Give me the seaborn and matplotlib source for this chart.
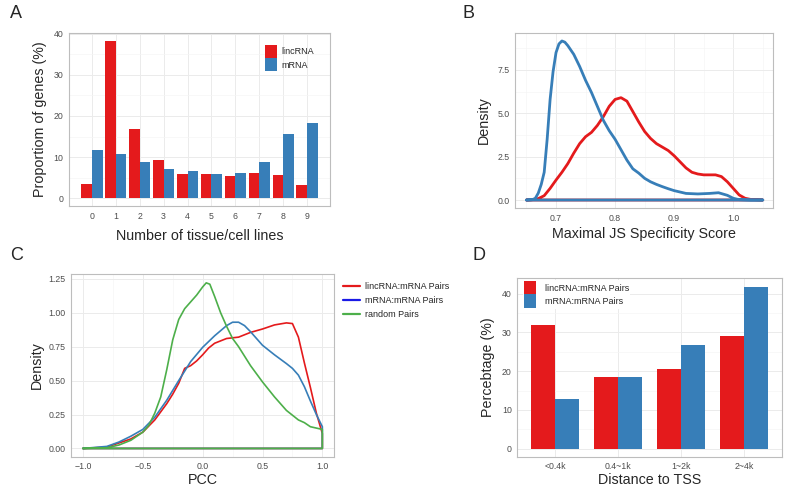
"""Four-panel figure: tissue specificity and co-expression of lincRNA vs mRNA."""

import numpy as np
import pandas as pd
import matplotlib
import matplotlib.pyplot as plt
from matplotlib.lines import Line2D
import seaborn as sns

matplotlib.use("Agg")

# ---- data -------------------------------------------------------------
# Panel A: proportion of genes expressed in n tissue/cell lines
tissue_counts = [0, 1, 2, 3, 4, 5, 6, 7, 8, 9]
lincrna_prop = [3.4, 38.3, 16.9, 9.2, 6.0, 5.9, 5.5, 6.1, 5.7, 3.2]
mrna_prop = [11.8, 10.8, 8.9, 7.2, 6.5, 6.0, 6.1, 8.8, 15.6, 18.4]

# Panel B: density of maximal JS specificity score
js_x_linc = [0.65, 0.66, 0.67, 0.68, 0.69, 0.70, 0.71, 0.72, 0.73, 0.74, 0.75,
             0.76, 0.77, 0.78, 0.79, 0.80, 0.81, 0.82, 0.83, 0.84, 0.85, 0.86,
             0.87, 0.88, 0.89, 0.90, 0.91, 0.92, 0.93, 0.94, 0.95, 0.96, 0.97,
             0.98, 0.99, 1.00, 1.01, 1.02, 1.03, 1.05]
js_y_linc = [0.0, 0.02, 0.08, 0.25, 0.67, 1.15, 1.6, 2.1, 2.7, 3.25, 3.65,
             3.9, 4.3, 4.8, 5.4, 5.8, 5.9, 5.7, 5.1, 4.5, 3.95, 3.55,
             3.25, 3.05, 2.85, 2.55, 2.2, 1.85, 1.6, 1.5, 1.45, 1.45, 1.45,
             1.35, 1.05, 0.67, 0.29, 0.1, 0.03, 0.0]
js_x_mrna = [0.65, 0.66, 0.665, 0.67, 0.675, 0.68, 0.685, 0.69, 0.695, 0.70,
             0.705, 0.71, 0.715, 0.72, 0.73, 0.74, 0.75, 0.76, 0.77, 0.78,
             0.79, 0.80, 0.81, 0.82, 0.83, 0.84, 0.85, 0.86, 0.87, 0.88, 0.89,
             0.90, 0.92, 0.94, 0.96, 0.975, 0.99, 1.00, 1.01, 1.03, 1.05]
js_y_mrna = [0.0, 0.02, 0.1, 0.4, 0.9, 1.6, 3.5, 5.8, 7.4, 8.5,
             9.0, 9.17, 9.1, 8.9, 8.4, 7.7, 6.9, 6.2, 5.4, 4.6,
             4.0, 3.5, 2.9, 2.3, 1.8, 1.55, 1.25, 1.05, 0.9, 0.77, 0.65,
             0.54, 0.38, 0.35, 0.38, 0.42, 0.27, 0.1, 0.02, 0.0, 0.0]

# Panel C: density of PCC for gene pairs
pcc_x_linc = [-1.0, -0.8, -0.6, -0.5, -0.4, -0.3, -0.25, -0.2, -0.15, -0.1,
              -0.05, 0.0, 0.05, 0.1, 0.2, 0.3, 0.4, 0.5, 0.6, 0.7, 0.75,
              0.8, 0.85, 0.9, 0.95, 1.0]
pcc_y_linc = [0.0, 0.01, 0.07, 0.12, 0.21, 0.33, 0.40, 0.48, 0.59, 0.61,
              0.645, 0.69, 0.74, 0.775, 0.81, 0.82, 0.855, 0.88, 0.91, 0.925, 0.92,
              0.82, 0.63, 0.45, 0.26, 0.11]
pcc_x_mrna = [-1.0, -0.8, -0.7, -0.6, -0.5, -0.4, -0.3, -0.2, -0.1, 0.0, 0.1,
              0.2, 0.25, 0.3, 0.35, 0.4, 0.5, 0.6, 0.7, 0.75, 0.8, 0.85, 0.9,
              0.95, 1.0]
pcc_y_mrna = [0.0, 0.015, 0.047, 0.09, 0.14, 0.23, 0.355, 0.5, 0.64, 0.745, 0.83,
              0.905, 0.93, 0.93, 0.905, 0.86, 0.76, 0.69, 0.625, 0.59, 0.54, 0.455, 0.35,
              0.25, 0.16]
pcc_x_rand = [-1.0, -0.8, -0.7, -0.6, -0.5, -0.45, -0.4, -0.35, -0.3, -0.25,
              -0.2, -0.15, -0.1, -0.05, 0.0, 0.03, 0.06, 0.1, 0.15, 0.2, 0.25,
              0.3, 0.4, 0.5, 0.6, 0.7, 0.8, 0.85, 0.9, 0.95, 1.0]
pcc_y_rand = [0.0, 0.005, 0.025, 0.06, 0.12, 0.17, 0.26, 0.38, 0.58, 0.8,
              0.95, 1.03, 1.08, 1.13, 1.19, 1.22, 1.21, 1.12, 1.0, 0.9, 0.81,
              0.75, 0.61, 0.49, 0.38, 0.28, 0.21, 0.19, 0.16, 0.15, 0.14]

# Panel D: distance to TSS
tss_bins = ["<0.4k", "0.4~1k", "1~2k", "2~4k"]
tss_linc = [32.0, 18.4, 20.5, 29.0]
tss_mrna = [12.8, 18.6, 26.7, 41.8]

# ---- style ------------------------------------------------------------
RED = "#E41A1C"
BLUE = "#377EB8"
GREEN = "#4DAF4A"
GRID = "#EBEBEB"
FRAME = "#BDBDBD"
TICK = 6.3
TITLE = 10.3

sns.set_style("white")
plt.rcParams["font.family"] = ["Liberation Sans", "DejaVu Sans"]


def style_axes(ax):
    ax.set_facecolor("white")
    for sp in ax.spines.values():
        sp.set_color(FRAME)
        sp.set_linewidth(0.8)
    ax.tick_params(axis="both", labelsize=TICK, colors="#4D4D4D",
                   length=2.5, width=0.6, direction="out", pad=1.5)
    ax.grid(True, which="major", color=GRID, linewidth=0.7)
    ax.grid(True, which="minor", color="#F5F5F5", linewidth=0.5)
    ax.set_axisbelow(True)


def closed_curve(xs, ys):
    # geom_density style outline: curve plus baseline back to start
    x = list(xs) + [xs[-1], xs[0]]
    y = list(ys) + [0.0, 0.0]
    return pd.DataFrame({"x": x, "y": y})


fig = plt.figure(figsize=(7.87, 4.88), dpi=100)

# ---- A ----------------------------------------------------------------
axA = fig.add_axes([0.0877, 0.5779, 0.3316, 0.3545])
dfA = pd.DataFrame({
    "n": tissue_counts * 2,
    "prop": lincrna_prop + mrna_prop,
    "type": ["lincRNA"] * len(tissue_counts) + ["mRNA"] * len(tissue_counts),
})
sns.barplot(data=dfA, x="n", y="prop", hue="type", palette=[RED, BLUE],
            width=0.9, gap=0, ax=axA, saturation=1, edgecolor="none")
style_axes(axA)
axA.set_xlim(-0.95, 9.95)
axA.set_ylim(-1.9, 40.2)
axA.set_yticks([0, 10, 20, 30, 40])
axA.set_yticks([5, 15, 25, 35], minor=True)
axA.tick_params(axis="y", which="minor", length=0)
axA.set_xlabel("Number of tissue/cell lines", fontsize=TITLE, labelpad=6)
axA.set_ylabel("Proportiom of genes (%)", fontsize=TITLE, labelpad=5)
axA.legend(loc="upper right", bbox_to_anchor=(0.97, 0.98), frameon=False,
           fontsize=6.5, handlelength=1.3, handleheight=1.9, handletextpad=0.5,
           labelspacing=0.0, title=None)

# ---- B ----------------------------------------------------------------
axB = fig.add_axes([0.6544, 0.5738, 0.3274, 0.3586])
sns.lineplot(data=closed_curve(js_x_linc, js_y_linc), x="x", y="y", sort=False,
             estimator=None, color=RED, linewidth=2.0, ax=axB)
sns.lineplot(data=closed_curve(js_x_mrna, js_y_mrna), x="x", y="y", sort=False,
             estimator=None, color=BLUE, linewidth=2.0, ax=axB)
style_axes(axB)
axB.set_xlim(0.6306, 1.0667)
axB.set_ylim(-0.46, 9.63)
axB.set_xticks([0.7, 0.8, 0.9, 1.0])
axB.set_xticks([0.65, 0.75, 0.85, 0.95, 1.05], minor=True)
axB.set_yticks([0.0, 2.5, 5.0, 7.5])
axB.set_yticks([1.25, 3.75, 6.25, 8.75], minor=True)
axB.tick_params(which="minor", length=0)
axB.set_xlabel("Maximal JS Specificity Score", fontsize=TITLE, labelpad=3)
axB.set_ylabel("Density", fontsize=TITLE, labelpad=5)

# ---- C ----------------------------------------------------------------
axC = fig.add_axes([0.0902, 0.0641, 0.3346, 0.3738])
for xs, ys, col in [(pcc_x_linc, pcc_y_linc, RED),
                    (pcc_x_mrna, pcc_y_mrna, BLUE),
                    (pcc_x_rand, pcc_y_rand, GREEN)]:
    sns.lineplot(data=closed_curve(xs, ys), x="x", y="y", sort=False,
                 estimator=None, color=col, linewidth=1.2, ax=axC)
style_axes(axC)
axC.set_xlim(-1.1, 1.1)
axC.set_ylim(-0.061, 1.283)
axC.set_xticks([-1.0, -0.5, 0.0, 0.5, 1.0])
axC.set_xticklabels(["\u22121.0", "\u22120.5", "0.0", "0.5", "1.0"])
axC.set_xticks([-0.75, -0.25, 0.25, 0.75], minor=True)
axC.set_yticks([0.0, 0.25, 0.5, 0.75, 1.0, 1.25])
axC.set_yticklabels(["0.00", "0.25", "0.50", "0.75", "1.00", "1.25"])
axC.tick_params(which="minor", length=0)
axC.set_xlabel("PCC", fontsize=TITLE, labelpad=1)
axC.set_ylabel("Density", fontsize=TITLE, labelpad=3)
handles = [Line2D([], [], color=c, linewidth=1.6) for c in [RED, "#1A1AE6", GREEN]]
axC.legend(handles, ["lincRNA:mRNA Pairs", "mRNA:mRNA Pairs", "random Pairs"],
           loc="upper left", bbox_to_anchor=(1.01, 0.99), frameon=False,
           fontsize=6.5, handlelength=1.8, handletextpad=0.6, labelspacing=0.55,
           borderpad=0.2)

# ---- D ----------------------------------------------------------------
axD = fig.add_axes([0.6573, 0.0641, 0.336, 0.3656])
dfD = pd.DataFrame({
    "bin": tss_bins * 2,
    "pct": tss_linc + tss_mrna,
    "pair": ["lincRNA:mRNA Pairs"] * len(tss_bins) + ["mRNA:mRNA Pairs"] * len(tss_bins),
})
sns.barplot(data=dfD, x="bin", y="pct", hue="pair", palette=[RED, BLUE],
            width=0.75, gap=0, ax=axD, saturation=1, edgecolor="none")
style_axes(axD)
axD.set_xlim(-0.6, 3.6)
axD.set_ylim(-2.1, 44.0)
axD.set_yticks([0, 10, 20, 30, 40])
axD.set_yticks([5, 15, 25, 35], minor=True)
axD.tick_params(axis="y", which="minor", length=0)
axD.set_xlabel("Distance to TSS", fontsize=TITLE, labelpad=1)
axD.set_ylabel("Percebtage (%)", fontsize=TITLE, labelpad=5)
leg = axD.legend(loc="upper left", bbox_to_anchor=(0.005, 1.015), frameon=True,
                 fontsize=6.5, handlelength=1.3, handleheight=1.9, handletextpad=1.0,
                 labelspacing=0.0, borderpad=0.1, title=None, fancybox=False)
leg.get_frame().set_edgecolor("none")
leg.get_frame().set_alpha(1)

# ---- panel letters ----------------------------------------------------
for lab, x, y in [("A", 10, 14), ("B", 463, 14), ("C", 10, 256), ("D", 472, 256)]:
    fig.text(x / 787, 1 - y / 488, lab, fontsize=13, ha="left", va="center")

fig.savefig("out.png", dpi=100)
